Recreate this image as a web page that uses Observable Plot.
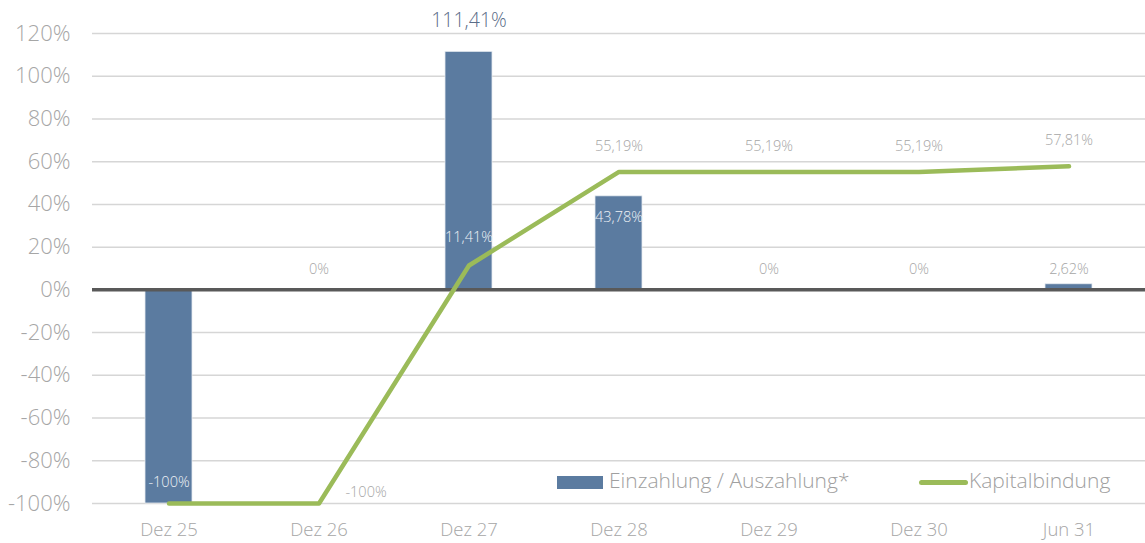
<!DOCTYPE html>
<html>
<head>
<meta charset="utf-8">
<script src="https://cdn.jsdelivr.net/npm/d3@7"></script>
<script src="https://cdn.jsdelivr.net/npm/@observablehq/plot@0.6"></script>
<style>
  body { margin: 0; background: #fff; }
  #wrap { position: relative; width: 1145px; height: 543px; font-family: "Open Sans", sans-serif; }
  .leg { position: absolute; font-size: 21px; font-weight: 300; color: #a0a0a0; line-height: 1; white-space: nowrap; }
</style>
</head>
<body>
<div id="wrap"></div>
<script>
const periods = ["Dez 25", "Dez 26", "Dez 27", "Dez 28", "Dez 29", "Dez 30", "Jun 31"];
const cashflow = [-100, 0, 111.41, 43.78, 0, 0, 2.62];
const capital = [-100, -100, 11.41, 55.19, 55.19, 55.19, 57.81];
const yTicks = [-100, -80, -60, -40, -20, 0, 20, 40, 60, 80, 100, 120];
const seriesNames = ["Einzahlung / Auszahlung*", "Kapitalbindung"];

const barColor = "#5b7ba0";
const lineColor = "#9bbb59";
const gray = "#a6a6a6";

const fmt = v => (Number.isInteger(v) ? String(v) : v.toFixed(2).replace(".", ",")) + "%";

const data = periods.map((p, i) => ({period: p, cash: cashflow[i], cap: capital[i], i}));

const plot = Plot.plot({
  width: 1145,
  height: 543,
  marginLeft: 92,
  marginRight: 0,
  marginTop: 33,
  marginBottom: 40,
  style: {fontFamily: "'Open Sans', sans-serif", color: gray, background: "#fff", fontWeight: 300},
  x: {type: "band", domain: periods, paddingInner: 0.69, paddingOuter: 0.345, label: null},
  y: {domain: [-100, 120], label: null},
  marks: [
    Plot.ruleY(yTicks, {stroke: "#d6d6d6", strokeWidth: 1.5}),
    Plot.barY(data, {x: "period", y: "cash", fill: barColor, stroke: "#e6ebf1", strokeWidth: 0.8}),
    Plot.ruleY([0], {stroke: "#595959", strokeWidth: 3.5}),
    Plot.lineY(data, {x: "period", y: "cap", stroke: lineColor, strokeWidth: 4.5, strokeLinecap: "round", strokeLinejoin: "round"}),
    // bar labels
    Plot.text(data.filter(d => d.cash > 100), {x: "period", y: "cash", text: d => fmt(d.cash), dy: -31, fill: "#5a6d88", fontSize: 19.5}),
    Plot.text(data.filter(d => d.cash > 5 && d.cash <= 100), {x: "period", y: "cash", text: d => fmt(d.cash), dy: 21, fill: "#eef2f6", fontSize: 14.5}),
    Plot.text(data.filter(d => d.cash >= 0 && d.cash <= 5), {x: "period", y: 0, text: d => fmt(d.cash), dy: -21, fill: gray, fontSize: 14.5}),
    Plot.text(data.filter(d => d.cash < 0), {x: "period", y: "cash", text: d => fmt(d.cash), dy: -21, fill: "#eef2f6", fontSize: 14.5}),
    // line labels
    Plot.text(data.filter(d => d.i > 0 && d.cap < 0), {x: "period", y: "cap", text: d => fmt(d.cap), dx: 47, dy: -11, fill: gray, fontSize: 14.5}),
    Plot.text(data.filter(d => d.cap >= 0 && d.cap < d.cash), {x: "period", y: "cap", text: d => fmt(d.cap), dy: -28, fill: "#eef2f6", fontSize: 14.5}),
    Plot.text(data.filter(d => d.cap >= 0 && d.cap >= d.cash), {x: "period", y: "cap", text: d => fmt(d.cap), dy: -26, fill: gray, fontSize: 14.5}),
    Plot.axisY(yTicks, {tickSize: 0, tickPadding: 22, tickFormat: d => d + "%", fontSize: 22, label: null}),
    Plot.axisX({tickSize: 0, tickPadding: 19, fontSize: 18.5, label: null})
  ]
});

const wrap = document.getElementById("wrap");
wrap.appendChild(plot);

function addLegend(left, swatchW, swatchH, color, radius, label, textLeft) {
  const sw = document.createElement("div");
  sw.style.cssText = `position:absolute;left:${left}px;top:${482 - swatchH / 2}px;width:${swatchW}px;height:${swatchH}px;background:${color};border-radius:${radius}px;`;
  wrap.appendChild(sw);
  const t = document.createElement("div");
  t.className = "leg";
  t.textContent = label;
  t.style.left = textLeft + "px";
  t.style.top = (482 - 12) + "px";
  wrap.appendChild(t);
}
addLegend(557, 46, 13, barColor, 0, seriesNames[0], 609);
addLegend(919, 49, 5, lineColor, 3, seriesNames[1], 969);
</script>
</body>
</html>
